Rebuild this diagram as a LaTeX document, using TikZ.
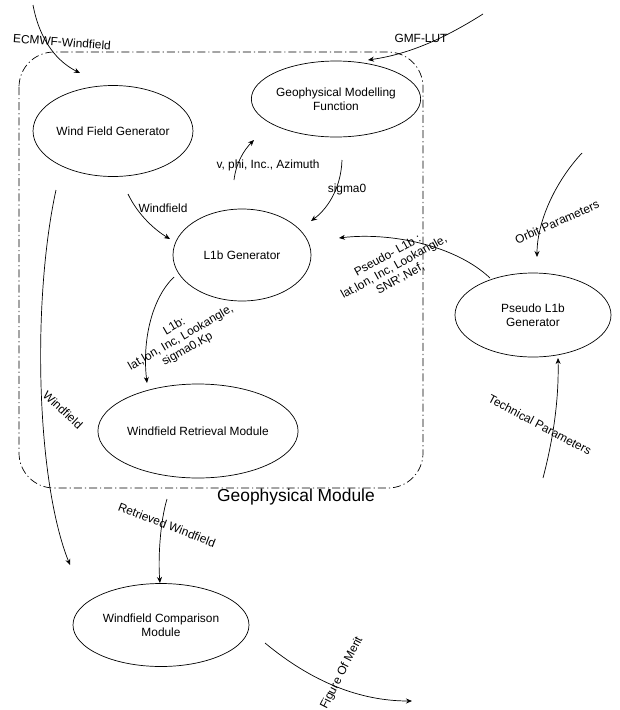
\documentclass[tikz,border=0pt]{standalone}
\usepackage{fontspec}
\setmainfont{Liberation Sans}
\usetikzlibrary{shapes.geometric,arrows.meta}
\tikzset{
  mod/.style={draw,ellipse,inner sep=0pt,align=center,font=\fontsize{11.9}{14}\selectfont,line width=0.7pt},
  flow/.style={draw,line width=0.7pt,-{Stealth[length=6pt,width=5pt]}},
  lab/.style={font=\fontsize{11.9}{13}\selectfont,inner sep=0pt,align=center},
  boundary/.style={draw,line width=0.7pt,dash pattern=on 8pt off 3pt on 1.2pt off 3pt,rounded corners=35pt},
}
\begin{document}
\begin{tikzpicture}[x=1pt,y=-1pt]
\useasboundingbox (0,0) rectangle (620,710);
% module boundary
\draw[boundary] (19,52) rectangle (423,488);
\node[lab,font=\fontsize{17.4}{20}\selectfont] (gm) at (296,497) {Geophysical Module};
% modules
\node[mod,minimum width=146pt,minimum height=91pt] (wfg) at (113,131) {Wind Field Generator};
\node[mod,minimum width=160pt,minimum height=76pt] (gmf) at (336,99) {Geophysical Modelling\\Function};
\node[mod,minimum width=138pt,minimum height=92pt] (l1b) at (242,255) {L1b Generator};
\node[mod,minimum width=166pt,minimum height=94pt] (wrm) at (198,431) {Windfield Retrieval Module};
\node[mod,minimum width=156pt,minimum height=84pt] (pl1b) at (533,315) {Pseudo L1b\\Generator};
\node[mod,minimum width=176pt,minimum height=83pt] (wcm) at (161,625) {Windfield Comparison\\Module};
% free ends and gaps
\coordinate (ecS) at (33,5);   \coordinate (ecE) at (80,73);
\coordinate (gmS) at (483,14); \coordinate (gmE) at (368,60);
\coordinate (vS) at (234,180); \coordinate (vE) at (254,140);
\coordinate (sS) at (342,160); \coordinate (sE) at (311,221);
\coordinate (wS) at (128,194); \coordinate (wE) at (170,239);
\coordinate (pS) at (490,278); \coordinate (pE) at (339,238);
\coordinate (oS) at (582,153); \coordinate (oE) at (537,257);
\coordinate (tS) at (543,478); \coordinate (tE) at (558,358);
\coordinate (lS) at (174,277); \coordinate (lE) at (147,383);
\coordinate (LS) at (56,190);  \coordinate (LE) at (70,565);
\coordinate (rS) at (167,499); \coordinate (rE) at (160,583);
\coordinate (fS) at (265,643); \coordinate (fE) at (412,701);
% connectors
\draw[flow] (ecS) .. controls (40,42) and (58,62) .. (ecE);
\draw[flow] (gmS) .. controls (445,38) and (410,54) .. (gmE);
\draw[flow] (vS) .. controls (236,163) and (244,150) .. (vE);
\draw[flow] (sS) .. controls (341,190) and (326,210) .. (sE);
\draw[flow] (wS) .. controls (138,215) and (155,230) .. (wE);
\draw[flow] (pS) .. controls (455,245) and (390,232) .. (pE);
\draw[flow] (oS) .. controls (555,182) and (537,222) .. (oE);
\draw[flow] (tS) .. controls (553,440) and (559,400) .. (tE);
\draw[flow] (lS) .. controls (152,298) and (142,340) .. (lE);
\draw[flow] (LS) .. controls (32,300) and (36,480) .. (LE);
\draw[flow] (rS) .. controls (160,522) and (158,560) .. (rE);
\draw[flow] (fS) .. controls (312,682) and (360,701) .. (fE);
% labels
\node[lab,rotate=-4] (lec) at (62,42) {ECMWF-Windfield};
\node[lab] (lgm) at (421,38) {GMF-LUT};
\node[lab] (lv) at (268,165) {v, phi, Inc., Azimuth};
\node[lab] (ls) at (347,189) {sigma0};
\node[lab] (lw) at (163,208) {Windfield};
\node[lab,rotate=29] (lp) at (394,267) {Pseudo- L1b :\\lat,lon, Inc, Lookangle,\\SNR',Nef,};
\node[lab,rotate=24] (lo) at (557,222) {Orbit Parameters};
\node[lab,rotate=-28] (lt) at (540,425) {Technical Parameters};
\node[lab,rotate=30] (ll) at (181,338) {L1b:\\lat,lon, Inc, Lookangle,\\sigma0,Kp};
\node[lab,rotate=-43] (lL) at (63,410) {Windfield};
\node[lab,rotate=-21] (lr) at (167,525) {Retrieved Windfield};
\node[lab,rotate=63] (lf) at (342,673) {Figure Of Merit};
\end{tikzpicture}
\end{document}
